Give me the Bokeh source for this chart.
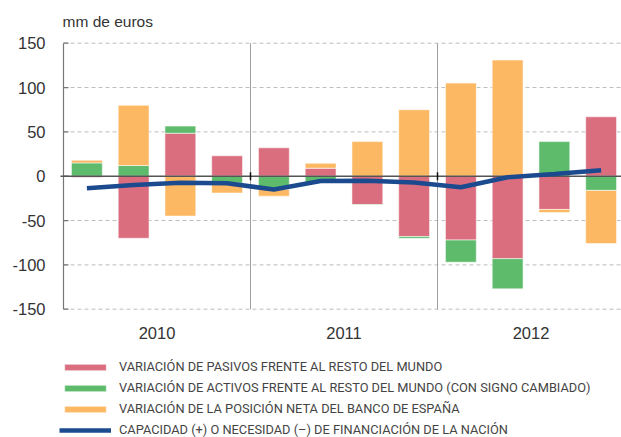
import numpy as np
from bokeh.plotting import figure
from bokeh.models import ColumnDataSource, Legend, LegendItem, Range1d
from bokeh.core.properties import value
from bokeh.embed import file_html
from bokeh.resources import INLINE

# ---- data (mm de euros), quarters 2010Q1 .. 2012Q4 ----
years = ["2010", "2011", "2012"]
quarters_per_year = 4
pasivos = [-1.5, -70, 48.5, 23, 32, 9, -32, -68, -72, -93, -37.5, 67]
activos = [15, 12, 8, -8, -15, -6.5, -0.5, -2, -25, -34, 39, -16]
posicion = [3, 68, -45, -11, -7.5, 5.5, 39, 75, 105, 131, -3.5, -60]
capacidad = [-13.5, -10, -7.5, -8, -15, -5.5, -5.2, -7, -12.4, -1.2, 2.6, 6.8]
y_ticks = [-150, -100, -50, 0, 50, 100, 150]
y_tick_labels = ["-150", "-100", "-50", "0", "50", "100", "150"]
unit_label = "mm de euros"

labels = [
    "VARIACIÓN DE PASIVOS FRENTE AL RESTO DEL MUNDO",
    "VARIACIÓN DE ACTIVOS FRENTE AL RESTO DEL MUNDO (CON SIGNO CAMBIADO)",
    "VARIACIÓN DE LA POSICIÓN NETA DEL BANCO DE ESPAÑA",
    "CAPACIDAD (+) O NECESIDAD (–) DE FINANCIACIÓN DE LA NACIÓN",
]
colors = ["#DB6E7E", "#5DBB6B", "#FDB863"]
line_color = "#1B4B8E"
text_color = "#333333"

# ---- layout (pixels) ----
W, H = 621, 437
X0_PX = 63.0          # pixel of first quarter boundary
QW_PX = 46.75         # pixels per quarter
Y0_PX = 175.7         # pixel of value 0
PU_PX = 133.0 / 150   # pixels per unit


def py(pix):
    """data y for a pixel row"""
    return (Y0_PX - pix) / PU_PX


def px(pix):
    """data x for a pixel column"""
    return (pix - X0_PX) / QW_PX


n = len(pasivos)
x = np.arange(n) + 0.5

p = figure(width=W, height=H, output_backend="svg", toolbar_location=None,
           x_range=Range1d(px(0), px(W)), y_range=Range1d(py(H), py(0)),
           x_axis_type=None, y_axis_type=None, min_border=0)
p.outline_line_color = None
p.grid.visible = False

ymin, ymax = min(y_ticks), max(y_ticks)

# grid lines (dashed), skip zero
gy = [t for t in y_ticks if t != 0]
p.segment(x0=[0] * len(gy), y0=gy, x1=[px(W)] * len(gy), y1=gy,
          line_color="#BDBDBD", line_dash="4 3", line_width=1)

# year dividers
boundaries = [quarters_per_year * (i + 1) for i in range(len(years) - 1)]
p.segment(x0=boundaries, y0=[ymin] * len(boundaries), x1=boundaries,
          y1=[ymax] * len(boundaries), line_color="#A0A0A0", line_width=1)

# stacked bars (positive and negative stacks separately)
pos_base = np.zeros(n)
neg_base = np.zeros(n)
bar_renderers = []
for vals, col in zip([pasivos, activos, posicion], colors):
    v = np.array(vals, dtype=float)
    bottom = np.where(v >= 0, pos_base, neg_base)
    top = bottom + v
    pos_base = np.where(v >= 0, top, pos_base)
    neg_base = np.where(v < 0, top, neg_base)
    src = ColumnDataSource(dict(x=x, bottom=bottom, top=top))
    r = p.vbar(x="x", bottom="bottom", top="top", width=0.66, source=src,
               fill_color=col, line_color="white", line_alpha=0.55, line_width=1)
    bar_renderers.append(r)

# y axis line, ticks, labels
p.segment(x0=[0], y0=[ymin], x1=[0], y1=[ymax], line_color="#777777", line_width=1.2)
p.segment(x0=[0] * len(y_ticks), y0=y_ticks, x1=[px(X0_PX + 5)] * len(y_ticks), y1=y_ticks,
          line_color="#777777", line_width=1.2)
p.text(x=[0] * len(y_ticks), y=y_ticks, text=y_tick_labels, x_offset=-18,
       text_align="right", text_baseline="middle", text_font=value("Liberation Sans"),
       text_font_size="16.5px", text_color=text_color)

# zero line
p.segment(x0=[px(X0_PX - 3)], y0=[0], x1=[px(W)], y1=[0], line_color="#555555", line_width=1.5)
p.segment(x0=boundaries, y0=[py(Y0_PX + 4)] * len(boundaries), x1=boundaries,
          y1=[py(Y0_PX - 4)] * len(boundaries), line_color="#111111", line_width=1.5)

# capacity / need line
lr = p.line(x=x, y=capacidad, line_color=line_color, line_width=4.5)

# year labels
year_centers = [quarters_per_year * (i + 0.5) for i in range(len(years))]
p.text(x=year_centers, y=[py(332)] * len(years), text=years, text_align="center",
       text_baseline="middle", text_font=value("Liberation Sans"),
       text_font_size="16.5px", text_color=text_color)

# unit label
p.text(x=[0], y=[py(21)], text=[unit_label], x_offset=-1, text_align="left",
       text_baseline="middle", text_font=value("Liberation Sans"),
       text_font_size="15.5px", text_color=text_color)

legend = Legend(items=[LegendItem(label=l, renderers=[r])
                       for l, r in zip(labels, bar_renderers + [lr])],
                location=(59, -3), orientation="vertical",
                glyph_width=52, glyph_height=8, label_standoff=8,
                spacing=0, label_height=21, padding=0, margin=0,
                border_line_color=None, background_fill_alpha=0,
                label_text_font="Roboto",
                label_text_font_size="12.8px", label_text_color="#444444")
p.add_layout(legend)

open("out.html", "w").write(file_html(p, INLINE))
